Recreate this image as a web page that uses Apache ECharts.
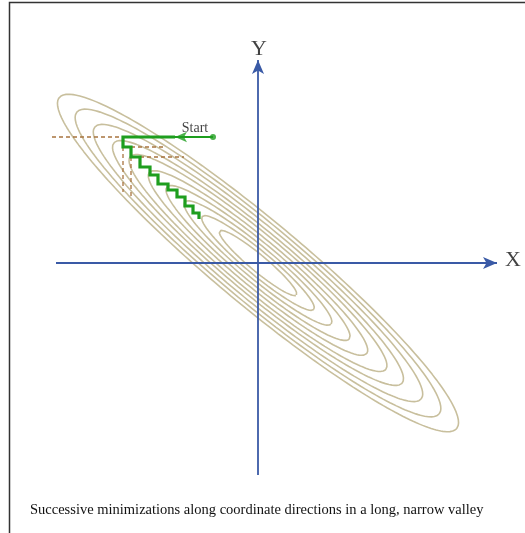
<!DOCTYPE html>
<html>
<head>
<meta charset="utf-8">
<script src="https://cdn.jsdelivr.net/npm/echarts@6/dist/echarts.min.js"></script>
<style>html,body{margin:0;padding:0;background:#fff}#c{width:525px;height:533px}</style>
</head>
<body>
<div id="c"></div>
<script>
// Contour ellipses: semi-major axes (units), shared aspect ratio and tilt
const contourSemiMajor = [50, 72.6, 95.3, 118.7, 141.5, 166.3, 187.6, 212.4, 235.8, 258.6];
const contourAspect = 0.165;
const contourTiltDeg = -39.8;

// Coordinate-descent path
const startPoint = [-45, 126];
const arrowPoint = [-83, 126];
const stairPath = [
  [-83,126],[-135,126],[-135,116],[-127,116],[-127,106],[-118,106],[-118,96],
  [-108,96],[-108,88],[-100,88],[-100,79],[-90,79],[-90,73],[-81,73],[-81,66],
  [-73,66],[-73,57],[-65,57],[-65,50],[-59,50],[-59,44]
];
// Dashed tangent lines
const dashedSegments = [
  [[-206,126],[-135,126]],
  [[-127,116],[-95,116]],
  [[-118,106],[-74,106]],
  [[-135,116],[-135,71]],
  [[-127,106],[-127,65]]
];
// Axes extents
const xAxisSpan = [-202, 239];
const yAxisSpan = [-212, 203];
const axisLabels = [[255, 3, 'X'], [1, 214, 'Y']];
const startLabel = [-63, 135, 'Start'];
const caption = 'Successive minimizations along coordinate directions in a long, narrow valley';

const serif = '"Liberation Serif", "DejaVu Serif", serif';
const series = [];

const th = contourTiltDeg * Math.PI / 180;
contourSemiMajor.forEach(a => {
  const b = a * contourAspect;
  const pts = [];
  for (let i = 0; i <= 240; i++) {
    const t = i / 240 * 2 * Math.PI;
    const u = a * Math.cos(t), v = b * Math.sin(t);
    pts.push([u * Math.cos(th) - v * Math.sin(th), u * Math.sin(th) + v * Math.cos(th)]);
  }
  series.push({type:'line', data: pts, symbol:'none', silent:true, smooth:false,
    lineStyle:{color:'#c8bf9d', width:1.6}, z:2});
});

// axes with arrows
series.push({type:'line', data:[], symbol:'none', silent:true,
  markLine:{silent:true, symbol:['none','arrow'], symbolSize:[9,14], label:{show:false},
    lineStyle:{color:'#3a5aa6', width:1.8, type:'solid'},
    emphasis:{disabled:true},
    data:[
      [{coord:[xAxisSpan[0],0]},{coord:[xAxisSpan[1],0]}],
      [{coord:[0,yAxisSpan[0]]},{coord:[0,yAxisSpan[1]]}]
    ]}, z:3});

dashedSegments.forEach(seg => {
  series.push({type:'line', data: seg, symbol:'none', silent:true,
    lineStyle:{color:'#a8743f', width:1.3, type:[4,3]}, z:4});
});

series.push({type:'line', data:[startPoint, arrowPoint], symbol:'none', silent:true,
  lineStyle:{color:'#1e9e1e', width:2}, z:5});
series.push({type:'line', data: stairPath, symbol:'none', silent:true,
  lineStyle:{color:'#1e9e1e', width:3.2, join:'miter'}, z:6});
series.push({type:'scatter', data:[startPoint], symbol:'circle', symbolSize:6, silent:true,
  itemStyle:{color:'#1e9e1e'}, z:7});
series.push({type:'scatter', data:[arrowPoint], symbol:'arrow', symbolSize:[8,12], symbolRotate:90,
  silent:true, itemStyle:{color:'#1e9e1e'}, z:7});

series.push({type:'scatter', data: axisLabels, symbolSize:0, silent:true,
  label:{show:true, position:'inside', formatter: p => p.data[2],
    fontFamily: serif, fontSize:22, color:'#111'}, z:8});
series.push({type:'scatter', data:[startLabel], symbolSize:0, silent:true,
  label:{show:true, position:'inside', formatter: p => p.data[2],
    fontFamily: serif, fontSize:14, color:'#111'}, z:8});

const chart = echarts.init(document.getElementById('c'), null, {renderer:'canvas'});
chart.setOption({
  animation:false,
  backgroundColor:'#fff',
  grid:{left:0, right:0, top:0, bottom:0},
  xAxis:{type:'value', min:-258, max:267, show:false},
  yAxis:{type:'value', min:-270, max:263, show:false},
  title:{text: caption, left:25, top:498,
    textStyle:{fontFamily: serif, fontSize:14.5, fontWeight:'normal', color:'#111'}},
  graphic:[{type:'rect', shape:{x:9.5, y:2.5, width:540, height:560},
    style:{fill:'none', stroke:'#333', lineWidth:1.5}, silent:true, z:100}],
  series
});
</script>
</body>
</html>
